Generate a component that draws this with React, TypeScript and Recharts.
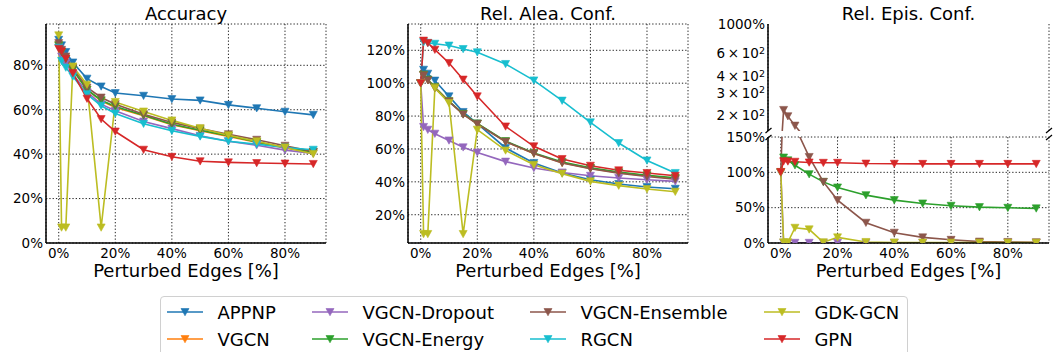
import React from "react";
import { LineChart, Line, XAxis, YAxis, CartesianGrid } from "recharts";

const FONT = "DejaVu Sans";

const perturbedEdges = [0, 1, 2.5, 5, 10, 15, 20, 30, 40, 50, 60, 70, 80, 90];
const xTicks = [0, 20, 40, 60, 80];

const models = ["APPNP", "VGCN", "VGCN-Dropout", "VGCN-Energy", "VGCN-Ensemble", "RGCN", "GDK-GCN", "GPN"];
const modelColors = ["#1f77b4", "#ff7f0e", "#9467bd", "#2ca02c", "#8c564b", "#17becf", "#bcbd22", "#d62728"];

// accuracy [%], one row per model (same order as models)
const accuracyValues = [
  [91.5, 89, 86, 81.3, 74, 70.5, 67.5, 66.3, 64.8, 64.2, 62.2, 60.7, 59.1, 57.7],
  [89, 86, 83, 78, 69, 64, 61, 57.3, 53.3, 50.5, 48, 45.3, 42.8, 40.8],
  [88, 84, 81, 76, 68, 62.5, 59.5, 54.7, 51.5, 48.3, 45.8, 44, 41.8, 40.3],
  [89, 86, 83, 78, 69, 64.3, 61.5, 57.5, 53.5, 50.8, 48.3, 45.5, 43, 41],
  [90, 87, 84, 79, 70, 65.5, 62.5, 58, 54.3, 51.5, 49, 46.5, 43.8, 41.2],
  [88, 82, 79, 75, 67, 61.8, 58.3, 53.7, 50.5, 48, 45.8, 44.5, 43, 42],
  [93.5, 7, 7, 79.5, 71.3, 7, 63.5, 59.2, 55.2, 51.7, 48.5, 45.8, 43, 40.1],
  [87.5, 86.3, 83, 76.5, 65, 55.8, 50.2, 42, 38.8, 36.8, 36.3, 36, 35.8, 35.6],
];
const accuracyTicks = [0, 20, 40, 60, 80];

// relative aleatoric confidence [%]
const aleaValues = [
  [100, 108.2, 105.8, 101.6, 92, 82.5, 75.4, 60.6, 51.5, 45.4, 41.3, 38.7, 36.9, 35.8],
  [100, 105, 102, 97.5, 89, 81.3, 75.3, 64.5, 57.3, 51.6, 48.2, 45.6, 43.6, 42],
  [100, 73.4, 71.7, 69.3, 65.2, 61, 57.9, 52.3, 48.4, 45.7, 43.7, 42.3, 41.3, 40.3],
  [100, 105.2, 102.2, 97.5, 89, 81.3, 75.5, 64.8, 57.6, 52, 48.5, 45.9, 44, 42.5],
  [100, 104.8, 101.8, 97, 88.8, 81, 75.2, 64.4, 57.3, 51.5, 48, 45.3, 43.2, 41.6],
  [100, 125, 124.5, 124, 122.9, 120.8, 118.8, 111.7, 101.7, 89.4, 76.2, 63.6, 53, 45.4],
  [100, 8.3, 8.3, 97.1, 88, 8.3, 71.7, 59.1, 50.4, 45, 40.3, 37.7, 35.6, 34],
  [100, 125.9, 124.5, 120.4, 112.3, 102.2, 92, 73.7, 61.6, 53.9, 49.8, 47, 45.4, 43.7],
];
const aleaTicks = [20, 40, 60, 80, 100, 120];

// relative epistemic confidence [%] (no value for APPNP, VGCN, RGCN)
const episValues = [
  null,
  null,
  [100, 0.3, 0.3, 0.3, 0.3, 0.3, 0.3, 0.3, 0.3, 0.3, 0.3, 0.3, 0.3, 0.3],
  [100, 121, 117, 110, 97.4, 86.5, 78.6, 67.7, 60.7, 56, 52.7, 50.8, 49.8, 49],
  [100, 218, 195, 165, 121.8, 86.5, 60.7, 28.7, 14.6, 8, 4.5, 2, 1.5, 1],
  null,
  [100, 1, 1, 21.6, 19.3, 1, 8, 1.5, 0.8, 0.6, 0.5, 0.5, 0.5, 0.5],
  [100.6, 115.7, 115.5, 115, 114, 113.5, 113.5, 112.4, 112.2, 112, 112, 112, 112, 112],
];
const episTicks = [0, 50, 100, 150];
const episLogTicks = [200, 300, 400, 600, 1000];

const toRows = (values: (number[] | null)[]) =>
  perturbedEdges.map((x, i) => {
    const row: Record<string, number> = { x };
    models.forEach((m, j) => {
      const v = values[j];
      if (v) row[m] = v[i];
    });
    return row;
  });

const accuracyRows = toRows(accuracyValues);
const aleaRows = toRows(aleaValues);
const episRows = toRows(episValues);

const pct = (v: number) => `${v}%`;
const tickStyle = { fontSize: 13.5, fill: "#000", fontFamily: FONT };
const frameLine = { stroke: "#000", strokeWidth: 1.5 };
const xDomain = [-4.5, 94.5];

function Tri({ cx, cy, color }: { cx?: number; cy?: number; color: string }) {
  if (cx == null || cy == null || isNaN(cx) || isNaN(cy)) return null;
  return (
    <polygon
      points={`${cx - 4},${cy - 3.5} ${cx + 4},${cy - 3.5} ${cx},${cy + 3.8}`}
      fill={color}
      stroke={color}
      strokeWidth={0.6}
    />
  );
}

function renderLines(values: (number[] | null)[]) {
  return models.map((m, j) =>
    values[j] ? (
      <Line
        key={m}
        dataKey={m}
        type="linear"
        stroke={modelColors[j]}
        strokeWidth={1.6}
        isAnimationActive={false}
        activeDot={false}
        dot={(p: any) => <Tri key={`${m}-${p.index}`} cx={p.cx} cy={p.cy} color={modelColors[j]} />}
      />
    ) : null
  );
}

const LogTick = (props: any) => {
  const { x, y, payload } = props;
  const v = payload.value as number;
  if (v === 1000) {
    return (
      <text x={x} y={y} dy="0.355em" textAnchor="end" {...tickStyle}>
        1000%
      </text>
    );
  }
  return (
    <text x={x} y={y} dy="0.42em" textAnchor="end" {...tickStyle}>
      {`${v / 100}\u2009×\u200910`}
      <tspan dy="-0.45em" fontSize={9.5}>2</tspan>
    </text>
  );
};

const xLabel = {
  value: "Perturbed Edges [%]",
  position: "insideBottom" as const,
  offset: 13,
  fontSize: 18,
  fill: "#000",
  fontFamily: FONT,
};

function Title({ text, left, width }: { text: string; left: number; width: number }) {
  return (
    <div
      style={{
        position: "absolute",
        left,
        top: 5,
        width,
        textAlign: "center",
        fontSize: 18,
        lineHeight: "18px",
        fontFamily: FONT,
        color: "#000",
      }}
    >
      {text}
    </div>
  );
}

function Legend() {
  return (
    <div
      style={{
        position: "absolute",
        left: 160,
        top: 296,
        width: 748,
        height: 80,
        boxSizing: "border-box",
        border: "1px solid #d0d0d0",
        borderRadius: 4,
        paddingLeft: 6,
        paddingTop: 1.5,
        display: "grid",
        gridTemplateColumns: "145px 218px 234px auto",
        gridTemplateRows: "27px 27px",
        gridAutoFlow: "column",
        fontFamily: FONT,
        fontSize: 18,
        color: "#000",
      }}
    >
      {models.map((m, j) => (
        <div key={m} style={{ display: "flex", alignItems: "center", lineHeight: "27px" }}>
          <svg width={36} height={14} style={{ marginRight: 14.4 }}>
            <line x1={0} y1={7} x2={36} y2={7} stroke={modelColors[j]} strokeWidth={1.6} />
            <Tri cx={18} cy={7} color={modelColors[j]} />
          </svg>
          <span>{m}</span>
        </div>
      ))}
    </div>
  );
}

// small diagonal marks where the epistemic axis is broken
function BreakMarks() {
  const xs = [768.5, 1049];
  return (
    <svg width={1053} height={352} style={{ position: "absolute", left: 0, top: 0, pointerEvents: "none" }}>
      {xs.map((x) => (
        <g key={x} stroke="#000" strokeWidth={1.2}>
          <line x1={x - 3} y1={133} x2={x + 3} y2={128} />
          <line x1={x - 3} y1={140} x2={x + 3} y2={135} />
        </g>
      ))}
    </svg>
  );
}

export default function App() {
  return (
    <div
      style={{
        position: "absolute",
        left: 0,
        top: 0,
        width: 1053,
        height: 352,
        overflow: "hidden",
        background: "#fff",
        fontFamily: FONT,
      }}
    >
      <Title text="Accuracy" left={46} width={280} />
      <Title text="Rel. Alea. Conf." left={408} width={280} />
      <Title text="Rel. Epis. Conf." left={768} width={281} />

      {/* Accuracy */}
      <div style={{ position: "absolute", left: 0, top: 0 }}>
        <LineChart width={340} height={290} data={accuracyRows} margin={{ top: 24, right: 14, bottom: 0, left: 0 }}>
          <CartesianGrid stroke="#222" strokeDasharray="1.3 2" />
          <XAxis dataKey="x" type="number" domain={xDomain} allowDataOverflow ticks={xTicks} tickFormatter={pct} interval={0}
            height={47} tickSize={0} tickMargin={5} tickLine={false} axisLine={frameLine} tick={tickStyle} label={xLabel} />
          <YAxis type="number" domain={[0, 98.6]} allowDataOverflow ticks={accuracyTicks} tickFormatter={pct} interval={0}
            width={46} tickSize={0} tickMargin={3} tickLine={false} axisLine={frameLine} tick={tickStyle} />
          <XAxis xAxisId="top" orientation="top" type="number" domain={xDomain} height={0} tick={false} tickLine={false} axisLine={frameLine} />
          <YAxis yAxisId="right" orientation="right" width={0} tick={false} tickLine={false} axisLine={frameLine} />
          {renderLines(accuracyValues)}
        </LineChart>
      </div>

      {/* Rel. Alea. Conf. */}
      <div style={{ position: "absolute", left: 340, top: 0 }}>
        <LineChart width={360} height={290} data={aleaRows} margin={{ top: 24, right: 12, bottom: 0, left: 0 }}>
          <CartesianGrid stroke="#222" strokeDasharray="1.3 2" />
          <XAxis dataKey="x" type="number" domain={xDomain} allowDataOverflow ticks={xTicks} tickFormatter={pct} interval={0}
            height={47} tickSize={0} tickMargin={5} tickLine={false} axisLine={frameLine} tick={tickStyle} label={xLabel} />
          <YAxis type="number" domain={[2.8, 136]} allowDataOverflow ticks={aleaTicks} tickFormatter={pct} interval={0}
            width={68} tickSize={0} tickMargin={3} tickLine={false} axisLine={frameLine} tick={tickStyle} />
          <XAxis xAxisId="top" orientation="top" type="number" domain={xDomain} height={0} tick={false} tickLine={false} axisLine={frameLine} />
          <YAxis yAxisId="right" orientation="right" width={0} tick={false} tickLine={false} axisLine={frameLine} />
          {renderLines(aleaValues)}
        </LineChart>
      </div>

      {/* Rel. Epis. Conf. - upper, log part of broken axis */}
      <div style={{ position: "absolute", left: 700, top: 0 }}>
        <LineChart width={353} height={131} data={episRows} margin={{ top: 24, right: 4, bottom: 0, left: 0 }}>
          <CartesianGrid stroke="#222" strokeDasharray="1.3 2" horizontal={false} />
          <XAxis dataKey="x" type="number" domain={xDomain} allowDataOverflow ticks={xTicks} interval={0}
            height={0} tick={false} tickLine={false} axisLine={false} />
          <YAxis type="number" scale="log" domain={[150, 1000]} allowDataOverflow ticks={episLogTicks} interval={0}
            width={68} tickSize={0} tickMargin={3} tickLine={false} axisLine={frameLine} tick={<LogTick />} />
          <XAxis xAxisId="top" orientation="top" type="number" domain={xDomain} height={0} tick={false} tickLine={false} axisLine={frameLine} />
          <YAxis yAxisId="right" orientation="right" width={0} tick={false} tickLine={false} axisLine={frameLine} />
          {renderLines(episValues)}
        </LineChart>
      </div>

      {/* Rel. Epis. Conf. - lower, linear part */}
      <div style={{ position: "absolute", left: 700, top: 127 }}>
        <LineChart width={353} height={163} data={episRows} margin={{ top: 10, right: 4, bottom: 0, left: 0 }}>
          <CartesianGrid stroke="#222" strokeDasharray="1.3 2" />
          <XAxis dataKey="x" type="number" domain={xDomain} allowDataOverflow ticks={xTicks} tickFormatter={pct} interval={0}
            height={47} tickSize={0} tickMargin={5} tickLine={false} axisLine={frameLine} tick={tickStyle} label={xLabel} />
          <YAxis type="number" domain={[0, 150]} allowDataOverflow ticks={episTicks} tickFormatter={pct} interval={0}
            width={68} tickSize={0} tickMargin={3} tickLine={false} axisLine={frameLine} tick={tickStyle} />
          <YAxis yAxisId="right" orientation="right" width={0} tick={false} tickLine={false} axisLine={frameLine} />
          {renderLines(episValues)}
        </LineChart>
      </div>

      <BreakMarks />
      <Legend />
    </div>
  );
}
